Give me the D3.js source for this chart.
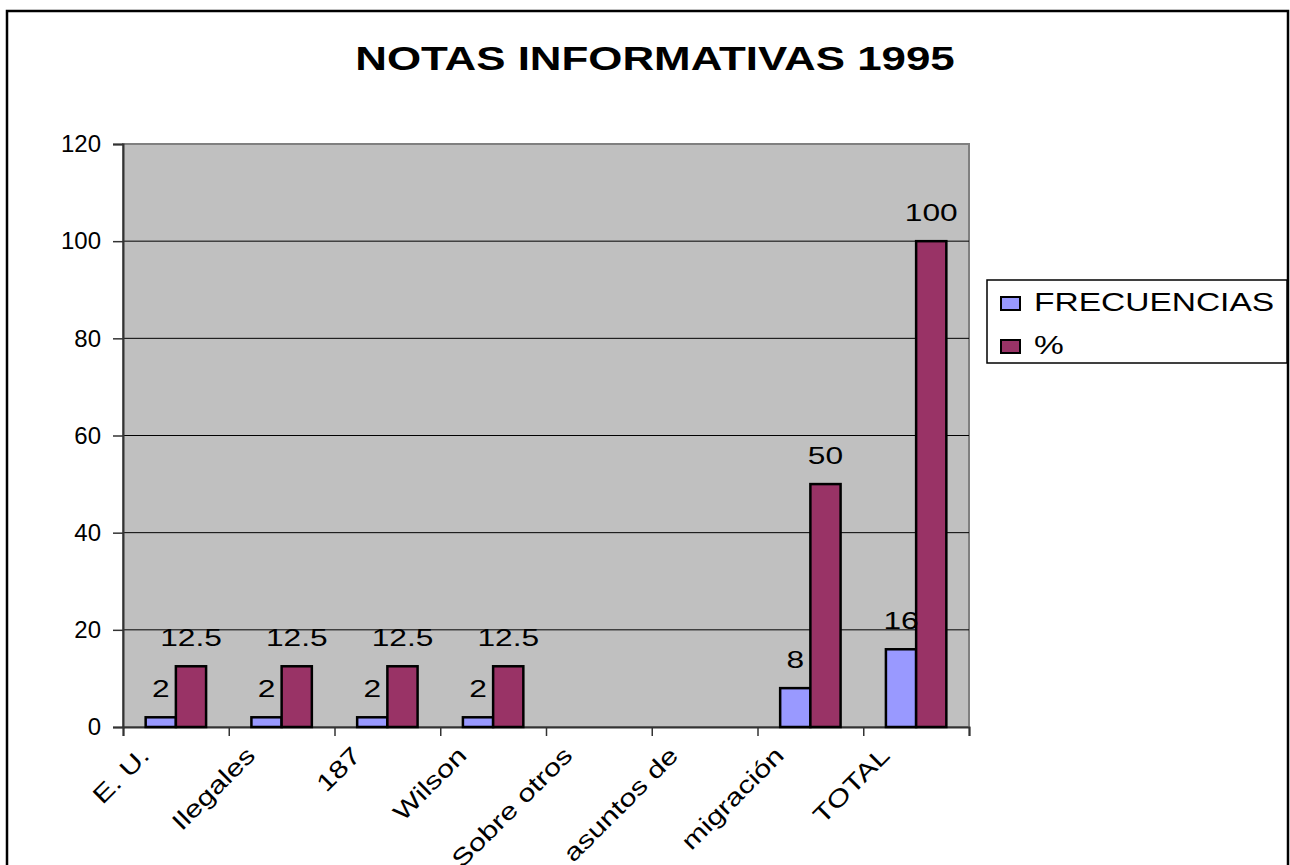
<!DOCTYPE html>
<html>
<head>
<meta charset="utf-8">
<script src="https://cdn.jsdelivr.net/npm/d3@7"></script>
<style>
  html, body { margin: 0; padding: 0; background: #fff; }
  svg { display: block; }
  text { font-family: "Liberation Sans", Arial, sans-serif; fill: #000; }
</style>
</head>
<body>
<svg id="chart" width="1290" height="865"></svg>
<script>
// ---- data ----
const title = "NOTAS INFORMATIVAS 1995";
const categories = ["E. U.", "Ilegales", "187", "Wilson", "Sobre otros", "asuntos de", "migración", "TOTAL"];
const seriesNames = ["FRECUENCIAS", "%"];
const frecuencias = [2, 2, 2, 2, null, null, 8, 16];
const porcentaje = [12.5, 12.5, 12.5, 12.5, null, null, 50, 100];
const yTicks = [0, 20, 40, 60, 80, 100, 120];
const seriesColors = ["#9999ff", "#993366"];

// ---- layout ----
const svg = d3.select("#chart");
const plot = { left: 123, right: 969, top: 144, bottom: 727 };

function stretch(sel, factor) {
  sel.each(function () {
    const w = this.getComputedTextLength();
    d3.select(this).attr("textLength", w * factor).attr("lengthAdjust", "spacingAndGlyphs");
  });
}

// outer chart border
svg.append("rect")
  .attr("x", 7).attr("y", 11).attr("width", 1281).attr("height", 880)
  .attr("fill", "#fff").attr("stroke", "#000").attr("stroke-width", 2.5);

// title
const t = svg.append("text")
  .attr("x", 655).attr("y", 70)
  .attr("text-anchor", "middle")
  .style("font-size", "34px").style("font-weight", "bold")
  .text(title);
stretch(t, 1.29);

// scales
const x0 = d3.scaleBand().domain(categories).range([plot.left, plot.right]).paddingInner(0).paddingOuter(0);
const bw = x0.bandwidth();
const barW = bw / 3.5;
const x1 = d3.scaleBand().domain(seriesNames).range([barW * 0.75, barW * 2.75]).padding(0);
const y = d3.scaleLinear().domain([0, 120]).range([plot.bottom, plot.top]);

// plot background
svg.append("rect")
  .attr("x", plot.left).attr("y", plot.top)
  .attr("width", plot.right - plot.left).attr("height", plot.bottom - plot.top)
  .attr("fill", "#c0c0c0").attr("stroke", "#808080").attr("stroke-width", 2);

// gridlines
svg.append("g").selectAll("line")
  .data(yTicks.filter(d => d > 0 && d < 120))
  .join("line")
  .attr("x1", plot.left).attr("x2", plot.right)
  .attr("y1", d => y(d)).attr("y2", d => y(d))
  .attr("stroke", "#000").attr("stroke-width", 1);

// y axis
const yAxis = svg.append("g")
  .attr("transform", `translate(${plot.left},0)`)
  .call(d3.axisLeft(y).tickValues(yTicks).tickSize(10).tickPadding(12).tickFormat(d3.format("d")));
yAxis.attr("font-size", null).attr("font-family", null);
yAxis.select(".domain").attr("stroke", "#333").attr("stroke-width", 2);
yAxis.selectAll(".tick line").attr("stroke", "#333").attr("stroke-width", 1.5);
yAxis.selectAll(".tick text")
  .style("font-size", "24px")
  .style("font-family", "'Liberation Sans', Arial, sans-serif")
  .attr("fill", "#000");

// x axis (category boundary ticks)
const xb = d3.scaleLinear().domain([0, categories.length]).range([plot.left, plot.right]);
const xAxis = svg.append("g")
  .attr("transform", `translate(0,${plot.bottom})`)
  .call(d3.axisBottom(xb).tickValues(d3.range(categories.length + 1)).tickSize(9).tickFormat(""));
xAxis.select(".domain").attr("stroke", "#333").attr("stroke-width", 2);
xAxis.selectAll(".tick line").attr("stroke", "#333").attr("stroke-width", 1.5);

// category labels rotated
const xl = svg.append("g").selectAll("text")
  .data(categories)
  .join("text")
  .attr("text-anchor", "end")
  .style("font-size", "24px")
  .attr("transform", d => `translate(${x0(d) + bw / 2 - 25},${plot.bottom + 30}) rotate(-45)`)
  .text(d => d);
stretch(xl, 1.28);

// bars
const rows = categories.map((c, i) => ({ cat: c, vals: [frecuencias[i], porcentaje[i]] }));
const groups = svg.append("g").selectAll("g")
  .data(rows)
  .join("g")
  .attr("transform", d => `translate(${x0(d.cat)},0)`);

groups.selectAll("rect")
  .data(d => d.vals.map((v, j) => ({ s: seriesNames[j], v, j })).filter(e => e.v != null))
  .join("rect")
  .attr("x", e => x1(e.s))
  .attr("width", x1.bandwidth())
  .attr("y", e => y(e.v))
  .attr("height", e => y(0) - y(e.v))
  .attr("fill", e => seriesColors[e.j])
  .attr("stroke", "#000").attr("stroke-width", 2.5);

const dl = groups.selectAll("text")
  .data(d => d.vals.map((v, j) => ({ s: seriesNames[j], v, j })).filter(e => e.v != null))
  .join("text")
  .attr("x", e => x1(e.s) + x1.bandwidth() / 2)
  .attr("y", e => y(e.v) - 20)
  .attr("text-anchor", "middle")
  .style("font-size", "24px")
  .text(e => e.v);
stretch(dl, 1.32);

// legend
const lg = svg.append("g");
lg.append("rect")
  .attr("x", 987).attr("y", 280).attr("width", 300).attr("height", 83)
  .attr("fill", "#fff").attr("stroke", "#000").attr("stroke-width", 1.5);
seriesNames.forEach((s, i) => {
  const yy = 297 + i * 43;
  lg.append("rect")
    .attr("x", 1001).attr("y", yy).attr("width", 19).attr("height", 13)
    .attr("fill", seriesColors[i]).attr("stroke", "#000").attr("stroke-width", 2);
  const tx = lg.append("text")
    .attr("x", 1034).attr("y", yy + 14)
    .style("font-size", "25px")
    .text(s);
  stretch(tx, 1.34);
});
</script>
</body>
</html>
